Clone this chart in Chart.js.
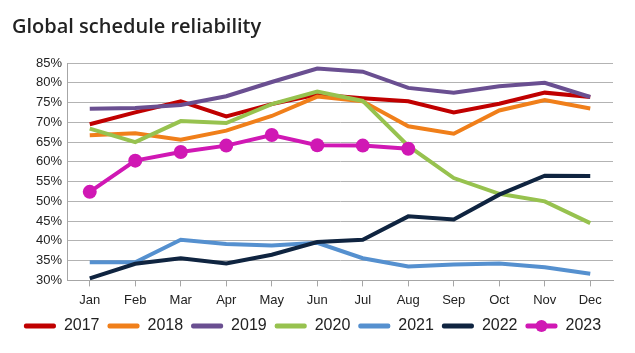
<!DOCTYPE html>
<html>
<head>
<meta charset="utf-8">
<script src="https://cdn.jsdelivr.net/npm/chart.js@4"></script>
<style>
  html, body { margin: 0; padding: 0; background: #fff; }
  #wrap { width: 635px; height: 353px; position: relative; }
</style>
</head>
<body>
<div id="wrap"><canvas id="myChart"></canvas></div>
<script>
const months = ['Jan', 'Feb', 'Mar', 'Apr', 'May', 'Jun', 'Jul', 'Aug', 'Sep', 'Oct', 'Nov', 'Dec'];
const yearLabels = ['2017', '2018', '2019', '2020', '2021', '2022', '2023'];

const v2017 = [69.5, 72.5, 75.3, 71.5, 74.6, 77.0, 76.1, 75.3, 72.5, 74.7, 77.5, 76.4];
const v2018 = [66.7, 67.2, 65.6, 67.9, 71.6, 76.5, 75.3, 69.0, 67.1, 73.0, 75.6, 73.5];
const v2019 = [73.4, 73.6, 74.4, 76.6, 80.2, 83.6, 82.8, 78.7, 77.5, 79.1, 80.0, 76.4];
const v2020 = [68.4, 65.0, 70.3, 69.8, 74.6, 77.8, 75.4, 64.0, 55.9, 51.9, 50.0, 44.5];
const v2021 = [34.6, 34.6, 40.3, 39.2, 38.8, 39.5, 35.6, 33.5, 34.0, 34.3, 33.3, 31.7];
const v2022 = [30.5, 34.2, 35.6, 34.3, 36.5, 39.7, 40.3, 46.2, 45.4, 51.7, 56.5, 56.4];
const v2023 = [52.4, 60.3, 62.5, 64.1, 66.8, 64.2, 64.1, 63.3];

const yTicks = { min: 30, max: 85, step: 5 };

const colors = ['#c00000', '#f07f1a', '#6a4f91', '#97c24f', '#5590cf', '#0f2440', '#d018b4'];
const series = [v2017, v2018, v2019, v2020, v2021, v2022, v2023];

const datasets = series.map(function (vals, i) {
    const last = i === 6;
    return {
        label: yearLabels[i],
        data: vals,
        borderColor: colors[i],
        backgroundColor: colors[i],
        borderWidth: 4,
        tension: 0,
        pointRadius: last ? 7 : 0,
        pointHoverRadius: last ? 7 : 0,
        pointBackgroundColor: colors[i],
        pointBorderWidth: 0,
        order: 6 - i
    };
});

// draws the round marker on the 2023 legend item
const legendMarker = {
    id: 'legendMarker',
    afterDraw(chart) {
        const legend = chart.legend;
        if (!legend || !legend.legendHitBoxes) return;
        const box = legend.legendHitBoxes[6];
        const c = chart.ctx;
        c.save();
        c.fillStyle = colors[6];
        c.beginPath();
        c.arc(box.left + 16, box.top + box.height / 2, 6, 0, Math.PI * 2);
        c.fill();
        c.restore();
    }
};

const ctx = document.getElementById('myChart').getContext('2d');
const myChart = new Chart(ctx, {
    type: 'line',
    data: { labels: months, datasets: datasets },
    plugins: [legendMarker],
    options: {
        responsive: true,
        maintainAspectRatio: false,
        animation: false,
        layout: { padding: { left: 12, right: 22, top: 0, bottom: 9 } },
        plugins: {
            title: {
                display: true,
                text: 'Global schedule reliability',
                align: 'start',
                color: '#222',
                font: { family: 'Open Sans', size: 20, weight: '600' },
                padding: { top: 15, bottom: 24 }
            },
            legend: {
                position: 'bottom',
                labels: {
                    boxWidth: 32,
                    boxHeight: 5,
                    padding: 8,
                    color: '#222',
                    useBorderRadius: true,
                    borderRadius: 2,
                    font: { family: 'Liberation Sans', size: 16 },
                    generateLabels: function (chart) {
                        const items = Chart.defaults.plugins.legend.labels.generateLabels(chart);
                        items.forEach(function (it) { it.lineWidth = 0; });
                        return items;
                    },
                    sort: function (a, b) { return a.datasetIndex - b.datasetIndex; }
                }
            },
            tooltip: { enabled: false }
        },
        scales: {
            x: {
                offset: true,
                afterFit: function (scale) { scale.height -= 4; },
                grid: { drawOnChartArea: false, drawTicks: true, tickLength: 6, color: '#a6a6a6' },
                border: { color: '#a6a6a6' },
                ticks: { color: '#222', font: { family: 'Liberation Sans', size: 13 }, padding: 6 }
            },
            y: {
                min: yTicks.min,
                max: yTicks.max,
                afterFit: function (scale) { scale.width = 55; },
                grid: { color: '#b3b3b3', drawTicks: false },
                border: { color: '#a6a6a6' },
                ticks: {
                    stepSize: yTicks.step,
                    color: '#222',
                    padding: 5,
                    font: { family: 'Liberation Sans', size: 13 },
                    callback: function (v) { return v + '%'; }
                }
            }
        }
    }
});
</script>
</body>
</html>
